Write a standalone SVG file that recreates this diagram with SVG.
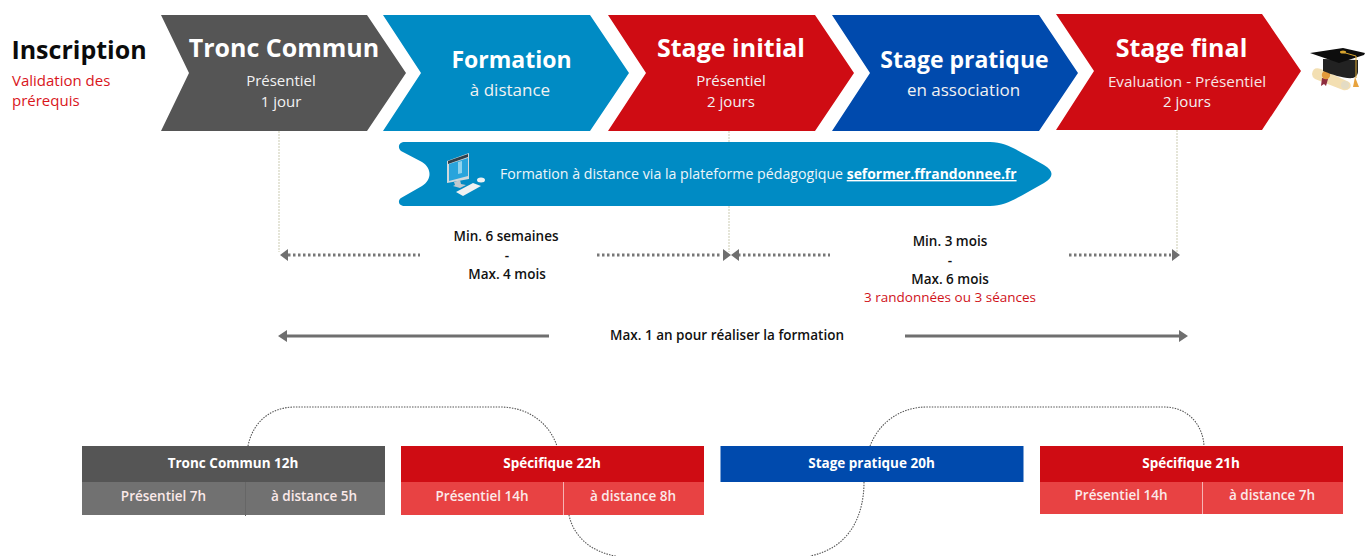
<svg xmlns="http://www.w3.org/2000/svg" width="1365" height="556" viewBox="0 0 1365 556">
<style>
text{font-family:"Open Sans","Liberation Sans",sans-serif;text-anchor:middle}
.t{font-size:25px;font-weight:700;fill:#fff}
.t2{font-size:23px;font-weight:700;fill:#fff}
.s{font-size:15px;fill:#f2f2f2}
.s2{font-size:17px;fill:#f2f2f2}
.b{font-size:13.500px;font-weight:600;fill:#111}
.h{font-size:13.500px;font-weight:700;fill:#fff}
.c{font-size:13.500px;font-weight:600;fill:#fbe9e9}
.guide{stroke:#d8d8c4;stroke-width:1.300;fill:none;stroke-dasharray:2 1}
.dot{stroke:#777;stroke-width:3;stroke-dasharray:2.500 2.500;fill:none}
.solid{stroke:#6f6f6f;stroke-width:3;fill:none}
.curve{stroke:#555;stroke-width:1.100;stroke-dasharray:1.500 1.200;fill:none}
.ah{fill:#6f6f6f}
</style>
<g id="connectors">
<path class="guide" d="M279 131V252M729 131V252M1177 130V252"/>
<path class="dot" d="M288 255H420M597 255H722M738 255H830M1069 255H1171"/>
<path class="ah" d="M280 255l8-6v12zM731 255l-8-6v12zM731 255l8-6v12zM1180 255l-8-6v12z"/>
<path class="solid" d="M286 336H549M905 336H1180"/>
<path class="ah" d="M278 336l9-6v12zM1188 336l-9-6v12z"/>
<path class="curve" d="M248 446C252 425 268 407 295 407H500C530 407 550 425 557 446"/>
<path class="curve" d="M569 515C573 535 590 552 616 556M864 482C864 515 850 548 810 556M870 446C878 425 898 407 927 407H1164C1188 407 1203 425 1204 446"/>
</g>
<g id="inscription">
<text x="79" y="59" font-size="25" font-weight="700" fill="#0b0b0b">Inscription</text>
<text x="12" y="86" font-size="15" fill="#d9151b" style="text-anchor:start">Validation des</text>
<text x="12" y="106" font-size="15" fill="#d9151b" style="text-anchor:start">prérequis</text>
</g>
<g id="tronc-commun">
<path fill="#555" d="M161 15H367L406 73L367 131H161L189 73Z"/>
<text class="t" x="284" y="57">Tronc Commun</text>
<text class="s" x="281" y="86">Présentiel</text>
<text class="s" x="281" y="107">1 jour</text>
</g>
<g id="formation">
<path fill="#008bc4" d="M383 15H590L629 73L590 131H383L421 73Z"/>
<text class="t2" x="511.500" y="68">Formation</text>
<text class="s2" x="510" y="96">à distance</text>
</g>
<g id="stage-initial">
<path fill="#cf0c13" d="M608 15H815L854 73L815 131H608L646 73Z"/>
<text class="t" x="731" y="57">Stage initial</text>
<text class="s" x="731" y="86">Présentiel</text>
<text class="s" x="731" y="107">2 jours</text>
</g>
<g id="stage-pratique">
<path fill="#004aad" d="M832 15H1039L1078 73L1039 131H832L870 73Z"/>
<text class="t2" x="964.500" y="67.500">Stage pratique</text>
<text class="s2" x="963.500" y="96">en association</text>
</g>
<g id="stage-final">
<path fill="#cf0c13" d="M1056 14H1262L1301 71L1262 130H1056L1094 71Z"/>
<text class="t" x="1181.500" y="57">Stage final</text>
<text x="1187" y="87" font-size="15.300" fill="#f7e6e6">Evaluation - Présentiel</text>
<text class="s" x="1187" y="107">2 jours</text>
</g>
<g id="graduation-cap">
<path fill="#f3dfb2" d="M1312 74q1-8 9-5l28 13q3 3 1 6q-3 3-7 2l-28-11q-3-2-3-5z"/>
<circle cx="1345" cy="85" r="4" fill="#e4dcc4"/>
<path fill="#8e2c3e" d="M1322 78l-1 8 3-2 2 2 2-7z"/>
<circle cx="1326" cy="75" r="4.200" fill="#e39a3a"/>
<path fill="#222" d="M1323 59v12c10 4 22 8 30 7 3-1 5-4 5-6V60z"/>
<path fill="#0d0d0d" d="M1310 53l33-5 22 5-1 2-25 8z"/>
<path fill="none" stroke="#d9a52e" stroke-width="1" d="M1342 52l14 4v22"/>
<ellipse cx="1343" cy="52" rx="3" ry="1.500" fill="#d9a52e"/>
<path fill="#e8a33e" d="M1355 77l-2 10h6z"/>
</g>
<g id="plateforme">
<path fill="#008bc4" d="M405 142H990C1005 142 1015 149 1028 156L1044 165C1054 171 1054 177 1044 183L1028 192C1015 199 1005 206 990 206H405C399 206 397 201 401 198L422 186C432 180 432 168 422 162L401 151C397 147 399 142 405 142Z"/>
<g id="computer-icon">
<path fill="#cfd8dc" d="M447 161l22-8v26l-22 4z"/>
<path fill="#2f3f4a" d="M448 161l20-7v3l-20 7z"/>
<path fill="#28a4dc" d="M449 164l19-6v18l-19 5z"/>
<path fill="#8fd3ee" d="M458 162l4-1v12l-4 1z"/>
<path fill="#bfc9ce" d="M454 182l6-2 1 4 5 1-6 3-7-2 2-1z"/>
<path fill="#eef1f2" d="M456 192l17-9 8 3-18 10z"/>
<ellipse cx="481" cy="180" rx="4" ry="2.500" fill="#eef1f2"/>
</g>
<text x="500" y="179" font-size="14.180" fill="#eef6fa" style="text-anchor:start">Formation à distance via la plateforme pédagogique <tspan font-size="13.900" font-weight="700" fill="#fff" text-decoration="underline">seformer.ffrandonnee.fr</tspan></text>
</g>
<g id="delai-1">
<text class="b" x="506" y="241">Min. 6 semaines</text>
<text class="b" x="507" y="259.500">-</text>
<text class="b" x="507" y="278.500">Max. 4 mois</text>
</g>
<g id="delai-2">
<text class="b" x="950" y="245.500">Min. 3 mois</text>
<text class="b" x="950" y="264.500">-</text>
<text class="b" x="950" y="283.500">Max. 6 mois</text>
<text x="950" y="302" font-size="13.500" font-weight="500" fill="#d0121a">3 randonnées ou 3 séances</text>
</g>
<g id="delai-total">
<text class="b" x="727" y="340">Max. 1 an pour réaliser la formation</text>
</g>
<g id="bloc-tronc">
<rect x="82" y="446" width="303" height="36" fill="#555"/>
<rect x="82" y="482" width="303" height="33" fill="#717171"/>
<path stroke="#666" d="M245.500 482V516"/>
<text class="h" x="233" y="467.500">Tronc Commun 12h</text>
<text class="c" x="163.500" y="500.500">Présentiel 7h</text>
<text class="c" x="314" y="500.500">à distance 5h</text>
</g>
<g id="bloc-specifique-22">
<rect x="401" y="446" width="303" height="36" fill="#cf0c13"/>
<rect x="401" y="482" width="303" height="33" fill="#e84243"/>
<path stroke="#f6b4b4" d="M563.500 482V515"/>
<text class="h" x="552" y="467.500">Spécifique 22h</text>
<text class="c" x="482" y="500.500">Présentiel 14h</text>
<text class="c" x="633" y="500.500">à distance 8h</text>
</g>
<g id="bloc-stage-pratique">
<rect x="720.500" y="446" width="303" height="36" fill="#004aad"/>
<text class="h" x="871.500" y="467.500">Stage pratique 20h</text>
</g>
<g id="bloc-specifique-21">
<rect x="1040" y="446" width="303" height="36" fill="#cf0c13"/>
<rect x="1040" y="482" width="303" height="32" fill="#e84243"/>
<path stroke="#f6b4b4" d="M1202.500 482V514"/>
<text class="h" x="1191" y="467.500">Spécifique 21h</text>
<text class="c" x="1121" y="500">Présentiel 14h</text>
<text class="c" x="1272" y="500">à distance 7h</text>
</g>
</svg>
